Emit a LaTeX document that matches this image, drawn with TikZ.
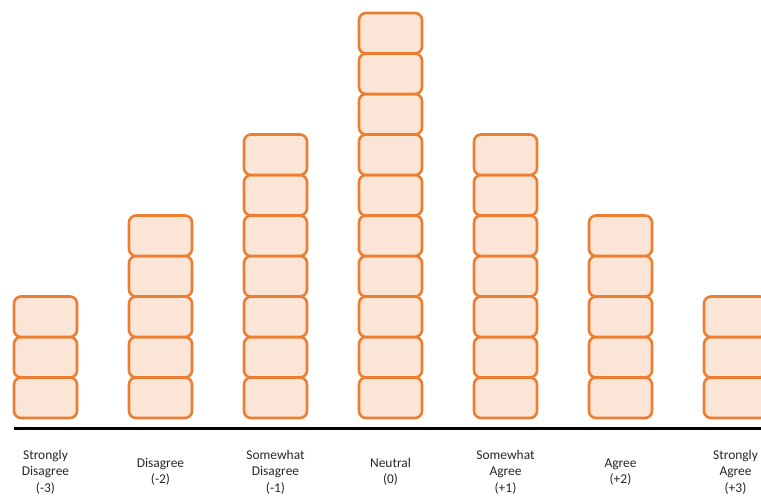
\documentclass[tikz,border=0pt]{standalone}
\usepackage{fontspec}
\setmainfont{Carlito}
\definecolor{boxfill}{HTML}{FBE5D6}
\definecolor{boxdraw}{HTML}{ED7D31}
\definecolor{txt}{HTML}{262626}
\begin{document}
\begin{tikzpicture}[x=1bp,y=-1bp,
  cell/.style={draw=boxdraw,fill=boxfill,line width=2.6bp,rounded corners=7bp,
    minimum width=63bp,minimum height=40.5bp,inner sep=0pt,outer sep=0pt},
  lbl/.style={align=center,text=txt,font=\fontsize{13.5}{16.5}\selectfont,inner sep=0pt},
  baseline/.style={line width=3bp,black}]
\useasboundingbox (0,0) rectangle (761,496);
\clip (0,0) rectangle (761,496);
\foreach \i/\n in {0/3,1/5,2/7,3/10,4/7,5/5,6/3}{
  \foreach \k in {1,...,\n}{
    \node[cell] (b\i-\k) at ({45.5+115*\i},{418-40.5*\k+20.25}) {};
  }
}
\coordinate (axl) at (14,428);
\coordinate (axr) at (770,428);
\draw[baseline] (axl) -- (axr);
\node[lbl] (l0) at (45.5,472) {Strongly\\Disagree\\(-3)};
\node[lbl] (l1) at (160.5,472) {Disagree\\(-2)};
\node[lbl] (l2) at (275.5,472) {Somewhat\\Disagree\\(-1)};
\node[lbl] (l3) at (390.5,472) {Neutral\\(0)};
\node[lbl] (l4) at (505.5,472) {Somewhat\\Agree\\(+1)};
\node[lbl] (l5) at (620.5,472) {Agree\\(+2)};
\node[lbl] (l6) at (735.5,472) {Strongly\\Agree\\(+3)};
\end{tikzpicture}
\end{document}
